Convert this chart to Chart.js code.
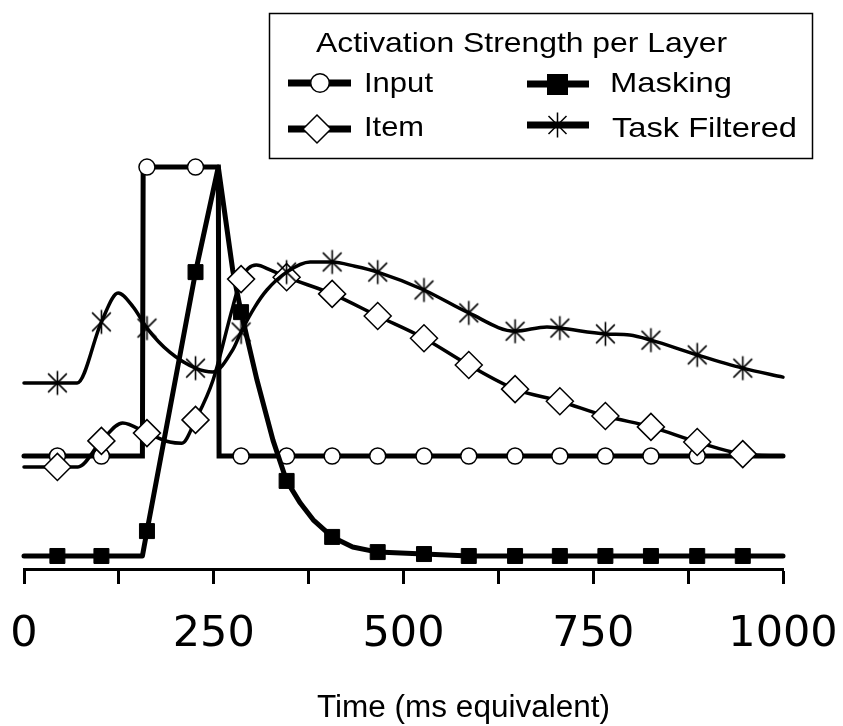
<!DOCTYPE html>
<html><head><meta charset="utf-8">
<script src="https://cdn.jsdelivr.net/npm/chart.js@4.4.1/dist/chart.umd.min.js"></script>
<style>
html,body{margin:0;padding:0;background:#fff;}
#wrap{position:relative;width:843px;height:726px;overflow:hidden;}
#c{position:absolute;left:0;top:0;}
#ov{position:absolute;left:0;top:0;pointer-events:none;}
</style></head><body>
<div id="wrap"><canvas id="c" width="843" height="726"></canvas>
<svg id="ov" width="843" height="726" xmlns="http://www.w3.org/2000/svg"></svg></div>
<script>
// ---- data (time in ms, activation in arbitrary units) ----
const seriesNames = ['Input', 'Masking', 'Item', 'Task Filtered'];
const legendTitle = 'Activation Strength per Layer';
const xAxisTitle = 'Time (ms equivalent)';
const xTickValues = [0, 250, 500, 750, 1000];
const xTickLabels = ['0', '250', '500', '750', '1000'];
const markerTimes = [44, 102, 162, 226, 286, 346, 406, 466, 527, 586, 647, 706, 766, 826, 887, 947];

const inputT = [0, 44, 102, 156, 157, 162, 226, 256, 257, 286, 346, 406, 466, 527, 586, 647, 706, 766, 826, 887, 947, 1000];
const inputV = [0.257, 0.257, 0.257, 0.257, 1.0, 1.0, 1.0, 1.0, 0.257, 0.257, 0.257, 0.257, 0.257, 0.257, 0.257, 0.257, 0.257, 0.257, 0.257, 0.257, 0.257, 0.257];

const maskT = [0, 44, 102, 156, 162, 226, 256, 275, 286, 307, 328, 346, 364, 381, 406, 433, 466, 527, 586, 647, 706, 766, 826, 887, 947, 1000];
const maskV = [0, 0, 0, 0, 0.064, 0.730, 1.0, 0.735, 0.627, 0.452, 0.298, 0.193, 0.136, 0.093, 0.049, 0.023, 0.010, 0.005, 0, 0, 0, 0, 0, 0, 0, 0];

const itemT = [0, 44, 71, 102, 130, 162, 192, 208, 226, 249, 275, 286, 306, 325, 346, 406, 466, 527, 586, 647, 706, 766, 826, 887, 947, 1000];
const itemV = [0.229, 0.229, 0.229, 0.296, 0.342, 0.316, 0.293, 0.290, 0.350, 0.452, 0.640, 0.712, 0.748, 0.735, 0.717, 0.674, 0.617, 0.560, 0.491, 0.429, 0.398, 0.360, 0.332, 0.293, 0.262, 0.257];

const taskT = [0, 44, 70, 102, 124, 144, 162, 192, 226, 249, 275, 286, 304, 320, 346, 377, 406, 436, 466, 527, 586, 647, 689, 706, 766, 798, 826, 887, 947, 1000];
const taskV = [0.445, 0.445, 0.445, 0.602, 0.676, 0.640, 0.586, 0.524, 0.483, 0.473, 0.530, 0.576, 0.640, 0.684, 0.730, 0.756, 0.756, 0.745, 0.730, 0.684, 0.625, 0.578, 0.589, 0.586, 0.571, 0.568, 0.555, 0.517, 0.483, 0.460];

// ---- marker shapes ----
function makeAsterisk(size, lw) {
  const cv = document.createElement('canvas');
  cv.width = size; cv.height = size;
  const g = cv.getContext('2d');
  const c = size / 2, a = size / 2 - 1.5, d = a * 0.78;
  g.strokeStyle = '#000'; g.lineWidth = lw; g.lineCap = 'butt';
  g.beginPath();
  g.moveTo(c, c - a); g.lineTo(c, c + a);
  g.moveTo(c - d, c - d); g.lineTo(c + d, c + d);
  g.moveTo(c + d, c - d); g.lineTo(c - d, c + d);
  g.stroke();
  return cv;
}
const asterisk = makeAsterisk(27, 1.6);

const pts = (T, V) => T.map((t, i) => ({ x: t, y: V[i] }));
const markerRadius = r => ctx => (ctx.raw && markerTimes.includes(ctx.raw.x)) ? r : 0;

const datasets = [
  { label: seriesNames[0], data: pts(inputT, inputV), borderColor: '#000', borderWidth: 5, tension: 0,
    borderJoinStyle: 'miter', borderCapStyle: 'round',
    pointStyle: 'circle', pointRadius: markerRadius(8), pointBackgroundColor: '#fff', pointBorderColor: '#000', pointBorderWidth: 1.5, order: 4, clip: false },
  { label: seriesNames[1], data: pts(maskT, maskV), borderColor: '#000', borderWidth: 5, tension: 0,
    borderJoinStyle: 'round', borderCapStyle: 'round',
    pointStyle: 'rect', pointRadius: markerRadius(10.6), pointBackgroundColor: '#000', pointBorderColor: '#000', pointBorderWidth: 1, order: 3, clip: false },
  { label: seriesNames[2], data: pts(itemT, itemV), borderColor: '#000', borderWidth: 3.5, cubicInterpolationMode: 'monotone',
    borderJoinStyle: 'round', borderCapStyle: 'round',
    pointStyle: 'rectRot', pointRadius: markerRadius(13.5), pointBackgroundColor: '#fff', pointBorderColor: '#000', pointBorderWidth: 1.5, order: 2, clip: false },
  { label: seriesNames[3], data: pts(taskT, taskV), borderColor: '#000', borderWidth: 3.5, cubicInterpolationMode: 'monotone',
    borderJoinStyle: 'round', borderCapStyle: 'round',
    pointStyle: asterisk, pointRadius: markerRadius(12), pointBackgroundColor: '#000', pointBorderColor: '#000', pointBorderWidth: 1.5, order: 1, clip: false }
];

new Chart(document.getElementById('c'), {
  type: 'line',
  data: { datasets },
  options: {
    responsive: false, animation: false, events: [],
    layout: { autoPadding: false, padding: { top: 150, left: 24, right: 60, bottom: 40 } },
    plugins: { legend: { display: false }, tooltip: { enabled: false } },
    scales: {
      x: {
        type: 'linear', min: 0, max: 1000, position: 'bottom',
        border: { display: true, color: '#000', width: 3 },
        grid: { display: true, drawOnChartArea: false, drawTicks: true, tickLength: 14, tickWidth: 3, tickColor: '#000' },
        ticks: {
          stepSize: 125, autoSkip: false, maxRotation: 0, minRotation: 0, padding: 5, color: '#000',
          font: { family: "'DejaVu Sans'", size: 43, lineHeight: 2.14 },
          callback: v => { const i = xTickValues.indexOf(v); return i >= 0 ? xTickLabels[i] : ''; }
        },
        title: { display: false }
      },
      y: { display: false, min: -0.036, max: 1.044 }
    }
  }
});

// ---- legend box and axis title (SVG text) ----
const NS = 'http://www.w3.org/2000/svg';
const svg = document.getElementById('ov');
function el(tag, attrs, text) {
  const e = document.createElementNS(NS, tag);
  for (const k in attrs) e.setAttribute(k, attrs[k]);
  if (text !== undefined) e.textContent = text;
  svg.appendChild(e); return e;
}
const font = "'Liberation Sans', Arial, sans-serif";
el('rect', { x: 269.5, y: 13.5, width: 543, height: 145, fill: '#fff', stroke: '#000', 'stroke-width': 1.5 });
el('text', { x: 316, y: 52, 'font-family': font, 'font-size': 28, textLength: 411, lengthAdjust: 'spacingAndGlyphs' }, legendTitle);

function icon(x1, x2, y) { el('line', { x1, y1: y, x2, y2: y, stroke: '#000', 'stroke-width': 7 }); }
// Input
icon(288, 351, 83);
el('circle', { cx: 320, cy: 83, r: 9.3, fill: '#fff', stroke: '#000', 'stroke-width': 1.5 });
el('text', { x: 364, y: 92, 'font-family': font, 'font-size': 28, textLength: 69, lengthAdjust: 'spacingAndGlyphs' }, seriesNames[0]);
// Item
icon(288, 351, 129);
el('polygon', { points: '303,129 317,115 331,129 317,143', fill: '#fff', stroke: '#000', 'stroke-width': 1.5 });
el('text', { x: 364, y: 136, 'font-family': font, 'font-size': 28, textLength: 60, lengthAdjust: 'spacingAndGlyphs' }, seriesNames[2]);
// Masking
icon(527, 589, 84);
el('rect', { x: 547, y: 74, width: 21, height: 21, fill: '#000' });
el('text', { x: 610, y: 92, 'font-family': font, 'font-size': 28, textLength: 122, lengthAdjust: 'spacingAndGlyphs' }, seriesNames[1]);
// Task Filtered
icon(527, 589, 125);
el('path', { d: 'M557.5,112.5 V137.5 M548.5,116 L566.5,134 M566.5,116 L548.5,134', stroke: '#000', 'stroke-width': 1.5, fill: 'none' });
el('text', { x: 612, y: 137, 'font-family': font, 'font-size': 28, textLength: 185, lengthAdjust: 'spacingAndGlyphs' }, seriesNames[3]);
// x axis title
el('text', { x: 317, y: 717, 'font-family': font, 'font-size': 31, textLength: 293, lengthAdjust: 'spacingAndGlyphs' }, xAxisTitle);
</script>
</body></html>
